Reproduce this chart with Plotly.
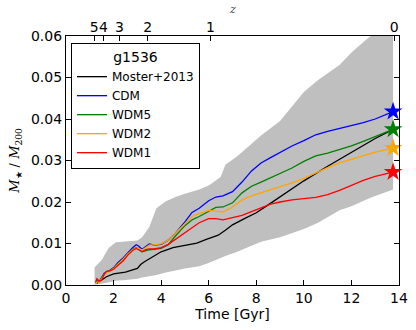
import plotly.graph_objects as go

# simulation output times [Gyr]
t_sim = [1.25, 1.3, 1.4, 1.5, 1.6, 1.7, 1.85, 2.0, 2.2, 2.4, 2.6, 2.8, 2.95, 3.05, 3.2, 3.35,
         3.5, 3.7, 4.0, 4.3, 4.6, 5.0, 5.3, 5.6, 6.0, 6.3, 6.6, 7.0, 7.4, 7.8, 8.2, 8.6,
         9.0, 9.5, 10.0, 10.5, 11.0, 11.5, 12.0, 12.5, 13.0, 13.75]

cdm = [0.0005, 0.0012, 0.0008, 0.0018, 0.0028, 0.0032, 0.0035, 0.0042, 0.0055, 0.0065, 0.0078,
       0.0090, 0.0097, 0.0094, 0.0086, 0.0093, 0.0099, 0.0096, 0.0098, 0.0108, 0.0125, 0.0152,
       0.0175, 0.0185, 0.0203, 0.0212, 0.0215, 0.0225, 0.0248, 0.0275, 0.0294, 0.0307, 0.0320,
       0.0335, 0.0348, 0.0362, 0.0370, 0.0377, 0.0384, 0.0391, 0.0400, 0.0418]

wdm5 = [0.0005, 0.0010, 0.0008, 0.0018, 0.0026, 0.0030, 0.0034, 0.0040, 0.0052, 0.0062, 0.0075,
        0.0086, 0.0090, 0.0088, 0.0080, 0.0083, 0.0085, 0.0086, 0.0088, 0.0097, 0.0118, 0.0143,
        0.0157, 0.0165, 0.0178, 0.0187, 0.0188, 0.0198, 0.0222, 0.0238, 0.0248, 0.0258, 0.0268,
        0.0282, 0.0298, 0.0311, 0.0318, 0.0326, 0.0335, 0.0346, 0.0358, 0.0375]

wdm2 = [0.0004, 0.0008, 0.0006, 0.0015, 0.0025, 0.0030, 0.0033, 0.0040, 0.0050, 0.0062, 0.0075,
        0.0085, 0.0089, 0.0088, 0.0084, 0.0090, 0.0096, 0.0097, 0.0099, 0.0108, 0.0125, 0.0150,
        0.0165, 0.0172, 0.0180, 0.0178, 0.0176, 0.0188, 0.0205, 0.0215, 0.0222, 0.0229, 0.0237,
        0.0246, 0.0257, 0.0270, 0.0283, 0.0294, 0.0303, 0.0312, 0.0320, 0.0330]

wdm1 = [0.0008, 0.0015, 0.0009, 0.0012, 0.0025, 0.0033, 0.0034, 0.0038, 0.0048, 0.0058, 0.0072,
        0.0083, 0.0088, 0.0085, 0.0080, 0.0085, 0.0087, 0.0087, 0.0090, 0.0098, 0.0110, 0.0128,
        0.0140, 0.0150, 0.0160, 0.0160, 0.0157, 0.0162, 0.0168, 0.0177, 0.0186, 0.0195, 0.0200,
        0.0205, 0.0208, 0.0211, 0.0218, 0.0228, 0.0240, 0.0252, 0.0262, 0.0272]

# Moster+2013 abundance matching
t_moster = [1.3, 1.5, 1.7, 2.0, 2.5, 3.0, 3.15, 3.3, 3.6, 4.0, 4.5, 5.0, 5.5, 5.9, 6.4, 6.7,
            7.0, 7.5, 8.0, 8.5, 9.0, 10.0, 11.0, 12.0, 13.0, 13.75]
moster = [0.0004, 0.0012, 0.0020, 0.0027, 0.0031, 0.0040, 0.0050, 0.0056, 0.0067, 0.0080, 0.0090,
          0.0095, 0.0101, 0.0110, 0.0120, 0.0132, 0.0145, 0.0160, 0.0174, 0.0193, 0.0213, 0.0251,
          0.0286, 0.0320, 0.0353, 0.0375]

# scatter band
t_band = [1.2, 1.25, 1.5, 1.8, 2.1, 2.5, 3.0, 3.2, 3.5, 3.8, 4.2, 4.6, 5.0, 5.6, 6.0, 6.5, 6.7,
          7.2, 7.8, 8.2, 9.0, 10.0, 10.6, 11.5, 12.0, 12.8, 13.75]
band_hi = [0.0043, 0.0045, 0.0060, 0.0090, 0.0103, 0.0104, 0.0107, 0.0115, 0.0140, 0.0185, 0.0202,
           0.0212, 0.0220, 0.0230, 0.0240, 0.0260, 0.0290, 0.0310, 0.0340, 0.0360, 0.0395, 0.0465,
           0.0494, 0.0530, 0.0560, 0.0600, 0.0640]
band_lo = [0.0, 0.0001, 0.0003, 0.0007, 0.0010, 0.0012, 0.0015, 0.0018, 0.0021, 0.0024, 0.0030,
           0.0035, 0.0040, 0.0045, 0.0053, 0.0065, 0.0070, 0.0080, 0.0095, 0.0104, 0.0115, 0.0135,
           0.0150, 0.0180, 0.0190, 0.0210, 0.0230]

# redshift axis
z_labels = ['5', '4', '3', '2', '1', '0']
z_times = [1.19, 1.57, 2.25, 3.43, 6.07, 13.8]

t_now = 13.75
series = [
    ('CDM', cdm, '#0000ff'),
    ('WDM5', wdm5, '#008000'),
    ('WDM2', wdm2, '#ffa500'),
    ('WDM1', wdm1, '#ff0000'),
]

FONT = 'DejaVu Sans'
tick_font = dict(family = FONT, size = 14, color = 'black')

fig = go.Figure()

fig.add_trace(go.Scatter(x = t_band, y = band_lo, mode = 'lines', line = dict(width = 0),
                         showlegend = False, hoverinfo = 'skip'))
fig.add_trace(go.Scatter(x = t_band, y = band_hi, mode = 'lines', line = dict(width = 0),
                         fill = 'tonexty', fillcolor = '#bfbfbf', showlegend = False,
                         hoverinfo = 'skip'))

fig.add_trace(go.Scatter(x = t_moster, y = moster, mode = 'lines', name = 'Moster+2013',
                         line = dict(color = 'black', width = 1.3)))

for name, vals, color in series:
    fig.add_trace(go.Scatter(x = t_sim, y = vals, mode = 'lines', name = name,
                             line = dict(color = color, width = 1.3)))

for name, vals, color in series:
    fig.add_trace(go.Scatter(x = [t_now], y = [vals[-1]], mode = 'markers', showlegend = False,
                             marker = dict(symbol = 'star', size = 14, color = color,
                                           line = dict(width = 0)),
                             cliponaxis = False))

# invisible trace to anchor the redshift axis
fig.add_trace(go.Scatter(x = [0, 14], y = [0, 0], xaxis = 'x2', mode = 'markers',
                         marker = dict(opacity = 0), showlegend = False, hoverinfo = 'skip'))

fig.update_layout(
    width = 416,
    height = 330,
    margin = dict(l = 66, r = 17, t = 36, b = 45, autoexpand = False),
    plot_bgcolor = 'white',
    paper_bgcolor = 'white',
    font = dict(family = FONT, size = 14, color = 'black'),
    xaxis = dict(
        range = [0, 14], automargin = False,
        tickvals = [0, 2, 4, 6, 8, 10, 12, 14], tickangle = 0,
        ticks = 'inside', ticklen = 5, tickcolor = 'black', tickfont = tick_font,
        showline = True, linecolor = 'black', linewidth = 1.3, mirror = True,
        showgrid = False, zeroline = False,
        title = dict(text = 'Time [Gyr]', standoff = 2, font = dict(size = 14)),
    ),
    xaxis2 = dict(
        range = [0, 14], automargin = False,
        overlaying = 'x', side = 'top',
        tickvals = z_times, ticktext = z_labels, tickangle = 0,
        ticks = 'inside', ticklen = 5, tickcolor = 'black', tickfont = tick_font,
        showline = False, showgrid = False, zeroline = False,
    ),
    yaxis = dict(
        range = [0, 0.06], automargin = False,
        tickvals = [0, 0.01, 0.02, 0.03, 0.04, 0.05, 0.06],
        tickformat = '.2f',
        ticks = 'inside', ticklen = 5, tickcolor = 'black', tickfont = tick_font,
        showline = True, linecolor = 'black', linewidth = 1.3, mirror = 'ticks',
        showgrid = False, zeroline = False,
        title = dict(text = '<i>M</i><sub>★</sub> / <i>M</i><sub>200</sub>', standoff = 8,
                     font = dict(family = 'DejaVu Serif', size = 13)),
    ),
    legend = dict(
        x = 0.015, y = 0.972, xanchor = 'left', yanchor = 'top',
        bgcolor = 'white', bordercolor = 'black', borderwidth = 1,
        font = dict(size = 12), traceorder = 'normal',
        title = dict(text = 'g1536', side = 'top center', font = dict(size = 14)),
        tracegroupgap = 0,
    ),
    annotations = [dict(
        text = '<i>z</i>', x = 0.5, y = 1.0, xref = 'paper', yref = 'paper',
        xanchor = 'center', yanchor = 'bottom', yshift = 18, showarrow = False,
        font = dict(family = 'DejaVu Serif', size = 11, color = '#444444'),
    )],
)

# drop the default page margin so the figure sits at the window's corner
fig.write_html('out.html', config = {'displayModeBar': False},
               post_script = "document.body.style.margin = '0';")
